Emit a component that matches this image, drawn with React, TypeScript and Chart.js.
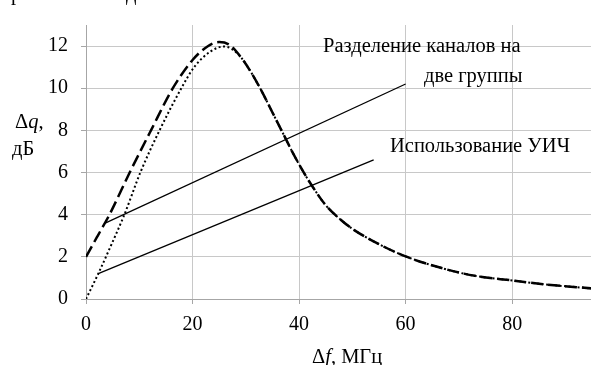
import React, { useEffect, useRef } from "react";
import { Chart, registerables } from "chart.js";

Chart.register(...registerables);

// Dashed curve (Δf, МГц ; Δq, дБ)
const dashedDf = [0, 2.2, 4.4, 8.2, 12.2, 16.3, 20, 22.8, 25, 27, 29, 31, 33, 35, 37, 39, 41, 43, 45, 47.5, 50, 55, 60, 67, 73, 80, 86, 95];
const dashedDq = [2, 3.0, 4.0, 6.0, 8.0, 10.0, 11.34, 11.98, 12.19, 12.05, 11.5, 10.75, 9.85, 8.85, 7.85, 6.85, 5.95, 5.15, 4.45, 3.83, 3.33, 2.6, 2.02, 1.45, 1.1, 0.88, 0.7, 0.5];

// Dotted curve
const dottedDf = [0, 2.3, 4.8, 7.2, 10.2, 13.8, 17.9, 20.3, 23.4, 25.9, 27.4, 29, 31, 33, 35, 37, 39, 41, 43, 45, 47.5, 50, 55, 60, 67, 73, 80, 86, 95];
const dottedDq = [0, 1.2, 2.6, 4.0, 6.0, 8.0, 10.0, 11.0, 11.75, 11.98, 11.86, 11.5, 10.75, 9.85, 8.85, 7.85, 6.85, 5.95, 5.15, 4.45, 3.83, 3.33, 2.6, 2.02, 1.45, 1.1, 0.88, 0.7, 0.5];

// Leader lines for the captions
const lineGroupsDf = [3.6, 60];
const lineGroupsDq = [3.6, 10.2];
const lineUichDf = [2.3, 54];
const lineUichDq = [1.2, 6.6];

const xTicks = [0, 20, 40, 60, 80];
const yTicks = [0, 2, 4, 6, 8, 10, 12];
const xMax = 94.8;
const yMax = 13;

const pts = (xs: number[], ys: number[]) => xs.map((x, i) => ({ x, y: ys[i] }));

const FONT = '"Liberation Serif", "Times New Roman", serif';

export default function App() {
  const ref = useRef<HTMLCanvasElement | null>(null);

  useEffect(() => {
    if (!ref.current) return;
    const chart = new Chart(ref.current, {
      type: "scatter",
      data: {
        datasets: [
          {
            data: pts(dashedDf, dashedDq),
            showLine: true,
            borderColor: "#000",
            borderWidth: 2.5,
            borderDash: [12, 5],
            pointRadius: 0,
            cubicInterpolationMode: "monotone",
          },
          {
            data: pts(dottedDf, dottedDq),
            showLine: true,
            borderColor: "#000",
            borderWidth: 2,
            borderDash: [2, 2.5],
            pointRadius: 0,
            cubicInterpolationMode: "monotone",
          },
          {
            data: pts(lineGroupsDf, lineGroupsDq),
            showLine: true,
            borderColor: "#000",
            borderWidth: 1.3,
            pointRadius: 0,
          },
          {
            data: pts(lineUichDf, lineUichDq),
            showLine: true,
            borderColor: "#000",
            borderWidth: 1.3,
            pointRadius: 0,
          },
        ],
      },
      options: {
        animation: false,
        responsive: false,
        devicePixelRatio: 1,
        layout: { padding: { top: 7, right: 0, bottom: 0, left: 0 } },
        plugins: { legend: { display: false }, tooltip: { enabled: false } },
        scales: {
          x: {
            type: "linear",
            min: 0,
            max: xMax,
            afterBuildTicks: (s: any) => {
              s.ticks = xTicks.map((v) => ({ value: v }));
            },
            afterFit: (s: any) => {
              s.height = 66;
            },
            grid: { color: "#c8c8c8", tickLength: 5, tickColor: "#a6a6a6", lineWidth: 1 },
            border: { color: "#a6a6a6" },
            ticks: { font: { family: FONT, size: 20 }, color: "#000", padding: 9, maxRotation: 0 },
          },
          y: {
            type: "linear",
            min: 0,
            max: yMax,
            afterBuildTicks: (s: any) => {
              s.ticks = yTicks.map((v) => ({ value: v }));
            },
            afterFit: (s: any) => {
              s.width = 86;
            },
            grid: { color: "#c8c8c8", tickLength: 5, tickColor: "#a6a6a6", lineWidth: 1 },
            border: { color: "#a6a6a6" },
            ticks: { font: { family: FONT, size: 20 }, color: "#000", padding: 13 },
          },
        },
      },
    });
    return () => chart.destroy();
  }, []);

  const txt: React.CSSProperties = {
    position: "absolute",
    fontFamily: FONT,
    fontSize: 20.5,
    lineHeight: "20px",
    whiteSpace: "nowrap",
    color: "#000",
  };

  return (
    <div style={{ position: "fixed", left: 0, top: 0, width: 591, height: 365, overflow: "hidden", background: "#fff" }}>
      <canvas ref={ref} width={591} height={365} style={{ position: "absolute", left: 0, top: 0, width: 591, height: 365 }} />
      <div style={{ ...txt, left: 0, top: -17 }}>практически идентичен.</div>
      <div style={{ ...txt, left: 323, top: 35 }}>Разделение каналов на</div>
      <div style={{ ...txt, left: 424, top: 65 }}>две группы</div>
      <div style={{ ...txt, left: 390, top: 135 }}>Использование УИЧ</div>
      <div style={{ ...txt, left: 15, top: 111 }}>Δ<i>q</i>,</div>
      <div style={{ ...txt, left: 12, top: 138 }}>дБ</div>
      <div style={{ ...txt, left: 312, top: 346 }}>Δ<i>f</i>, МГц</div>
    </div>
  );
}
